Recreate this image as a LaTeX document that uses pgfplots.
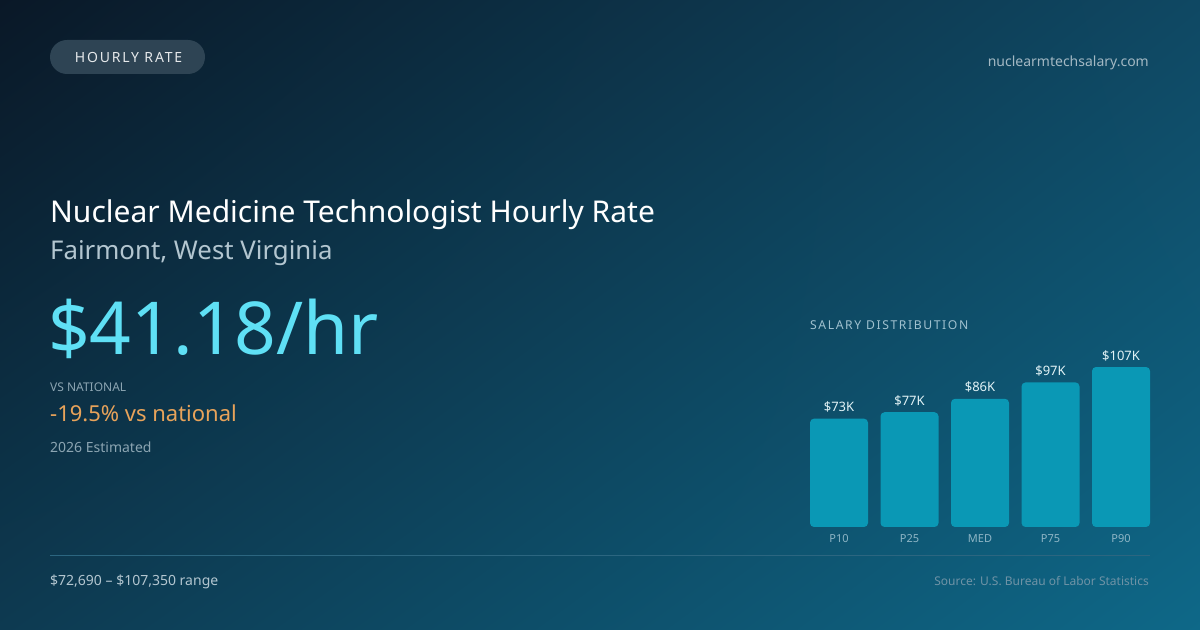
\documentclass[border=0pt]{standalone}
\usepackage{fontspec}
\setmainfont{Noto Sans}
\newfontfamily\spaced[LetterSpace=13]{Noto Sans}
\usepackage{pgfplots}
\pgfplotsset{compat=1.18}
\usetikzlibrary{shadings}
\definecolor{bgTL}{HTML}{0A1827}
\definecolor{bgTR}{HTML}{0F4863}
\definecolor{bgBL}{HTML}{0D3A51}
\definecolor{bgBR}{HTML}{0E6888}
\definecolor{barc}{HTML}{0A98B5}
\definecolor{bignum}{HTML}{5FE0F5}
\definecolor{orangec}{HTML}{E8A35A}
\definecolor{subc}{HTML}{B3C6D0}
\definecolor{mutec}{HTML}{8CA5B2}
\definecolor{pillc}{HTML}{2E4454}
\definecolor{domc}{HTML}{A3B8C3}
\definecolor{srcc}{HTML}{6F93A6}
\definecolor{linec}{HTML}{2C6680}
\definecolor{tickc}{HTML}{8FB6C6}
\begin{document}
\begin{tikzpicture}[x=1bp,y=1bp]
\shade[upper left=bgTL, upper right=bgTR, lower left=bgBL, lower right=bgBR] (0,0) rectangle (1200,630);
\useasboundingbox (0,0) rectangle (1200,630);
% badge
\fill[pillc, rounded corners=17bp] (50,556) rectangle (205,590);
\node[anchor=base, inner sep=0, text=white!88!pillc] at (128.5,567) {\fontsize{14bp}{16bp}\spaced HOURLY RATE};
\node[anchor=base east, inner sep=0, text=domc] at (1149,563) {\fontsize{14bp}{16bp}\selectfont nuclearmtechsalary.com};
% titles
\node[anchor=base west, inner sep=0, text=white] at (50,407) {\fontsize{30bp}{34bp}\selectfont Nuclear Medicine Technologist Hourly Rate};
\node[anchor=base west, inner sep=0, text=subc] at (50,370) {\fontsize{25.8bp}{30bp}\selectfont Fairmont, West Virginia};
\node[anchor=base west, inner sep=0, text=bignum] at (48,275) {\fontsize{73bp}{80bp}\selectfont \$41.18/hr};
\node[anchor=base west, inner sep=0, text=mutec] at (50,238) {\fontsize{12bp}{14bp}\selectfont VS NATIONAL};
\node[anchor=base west, inner sep=0, text=orangec] at (50,208) {\fontsize{22bp}{26bp}\selectfont -19.5\% vs national};
\node[anchor=base west, inner sep=0, text=mutec] at (50,177) {\fontsize{14bp}{16bp}\selectfont 2026 Estimated};
\node[anchor=base west, inner sep=0, text=tickc!85!white] at (810,300) {\fontsize{12.2bp}{14bp}\spaced SALARY DISTRIBUTION};
% footer
\draw[linec, line width=1bp] (50,74) -- (1150,74);
\node[anchor=base west, inner sep=0, text=subc] at (50,44) {\fontsize{14bp}{16bp}\selectfont \$72,690 – \$107,350 range};
\node[anchor=base east, inner sep=0, text=srcc] at (1149,44) {\fontsize{12bp}{14bp}\selectfont Source: U.S. Bureau of Labor Statistics};
% chart
\begin{axis}[
  at={(810bp,103bp)}, anchor=south west,
  width=340bp, height=200bp, scale only axis,
  xmin=-0.4113, xmax=4.4113, ymin=0, ymax=134.2,
  axis line style={draw=none},
  major tick length=0pt,
  ymajorticks=false,
  xtick={0,1,2,3,4},
  xticklabels={P10,P25,MED,P75,P90},
  xticklabel style={font=\fontsize{11bp}{13bp}\selectfont, text=tickc, anchor=base, yshift=-16bp, inner sep=0pt},
  ybar, bar width=58bp, bar shift=0pt,
  nodes near coords,
  point meta=explicit symbolic,
  every node near coord/.append style={font=\fontsize{13bp}{15bp}\selectfont, text=white!88!barc, anchor=base, yshift=7bp, inner sep=0pt},
  clip=false,
]
\addplot[fill=barc, draw=none, rounded corners=4bp] coordinates {
  (0,72.69) [\$73K]
  (1,77.0) [\$77K]
  (2,86.0) [\$86K]
  (3,97.0) [\$97K]
  (4,107.35) [\$107K]
};
\end{axis}
\end{tikzpicture}
\end{document}
